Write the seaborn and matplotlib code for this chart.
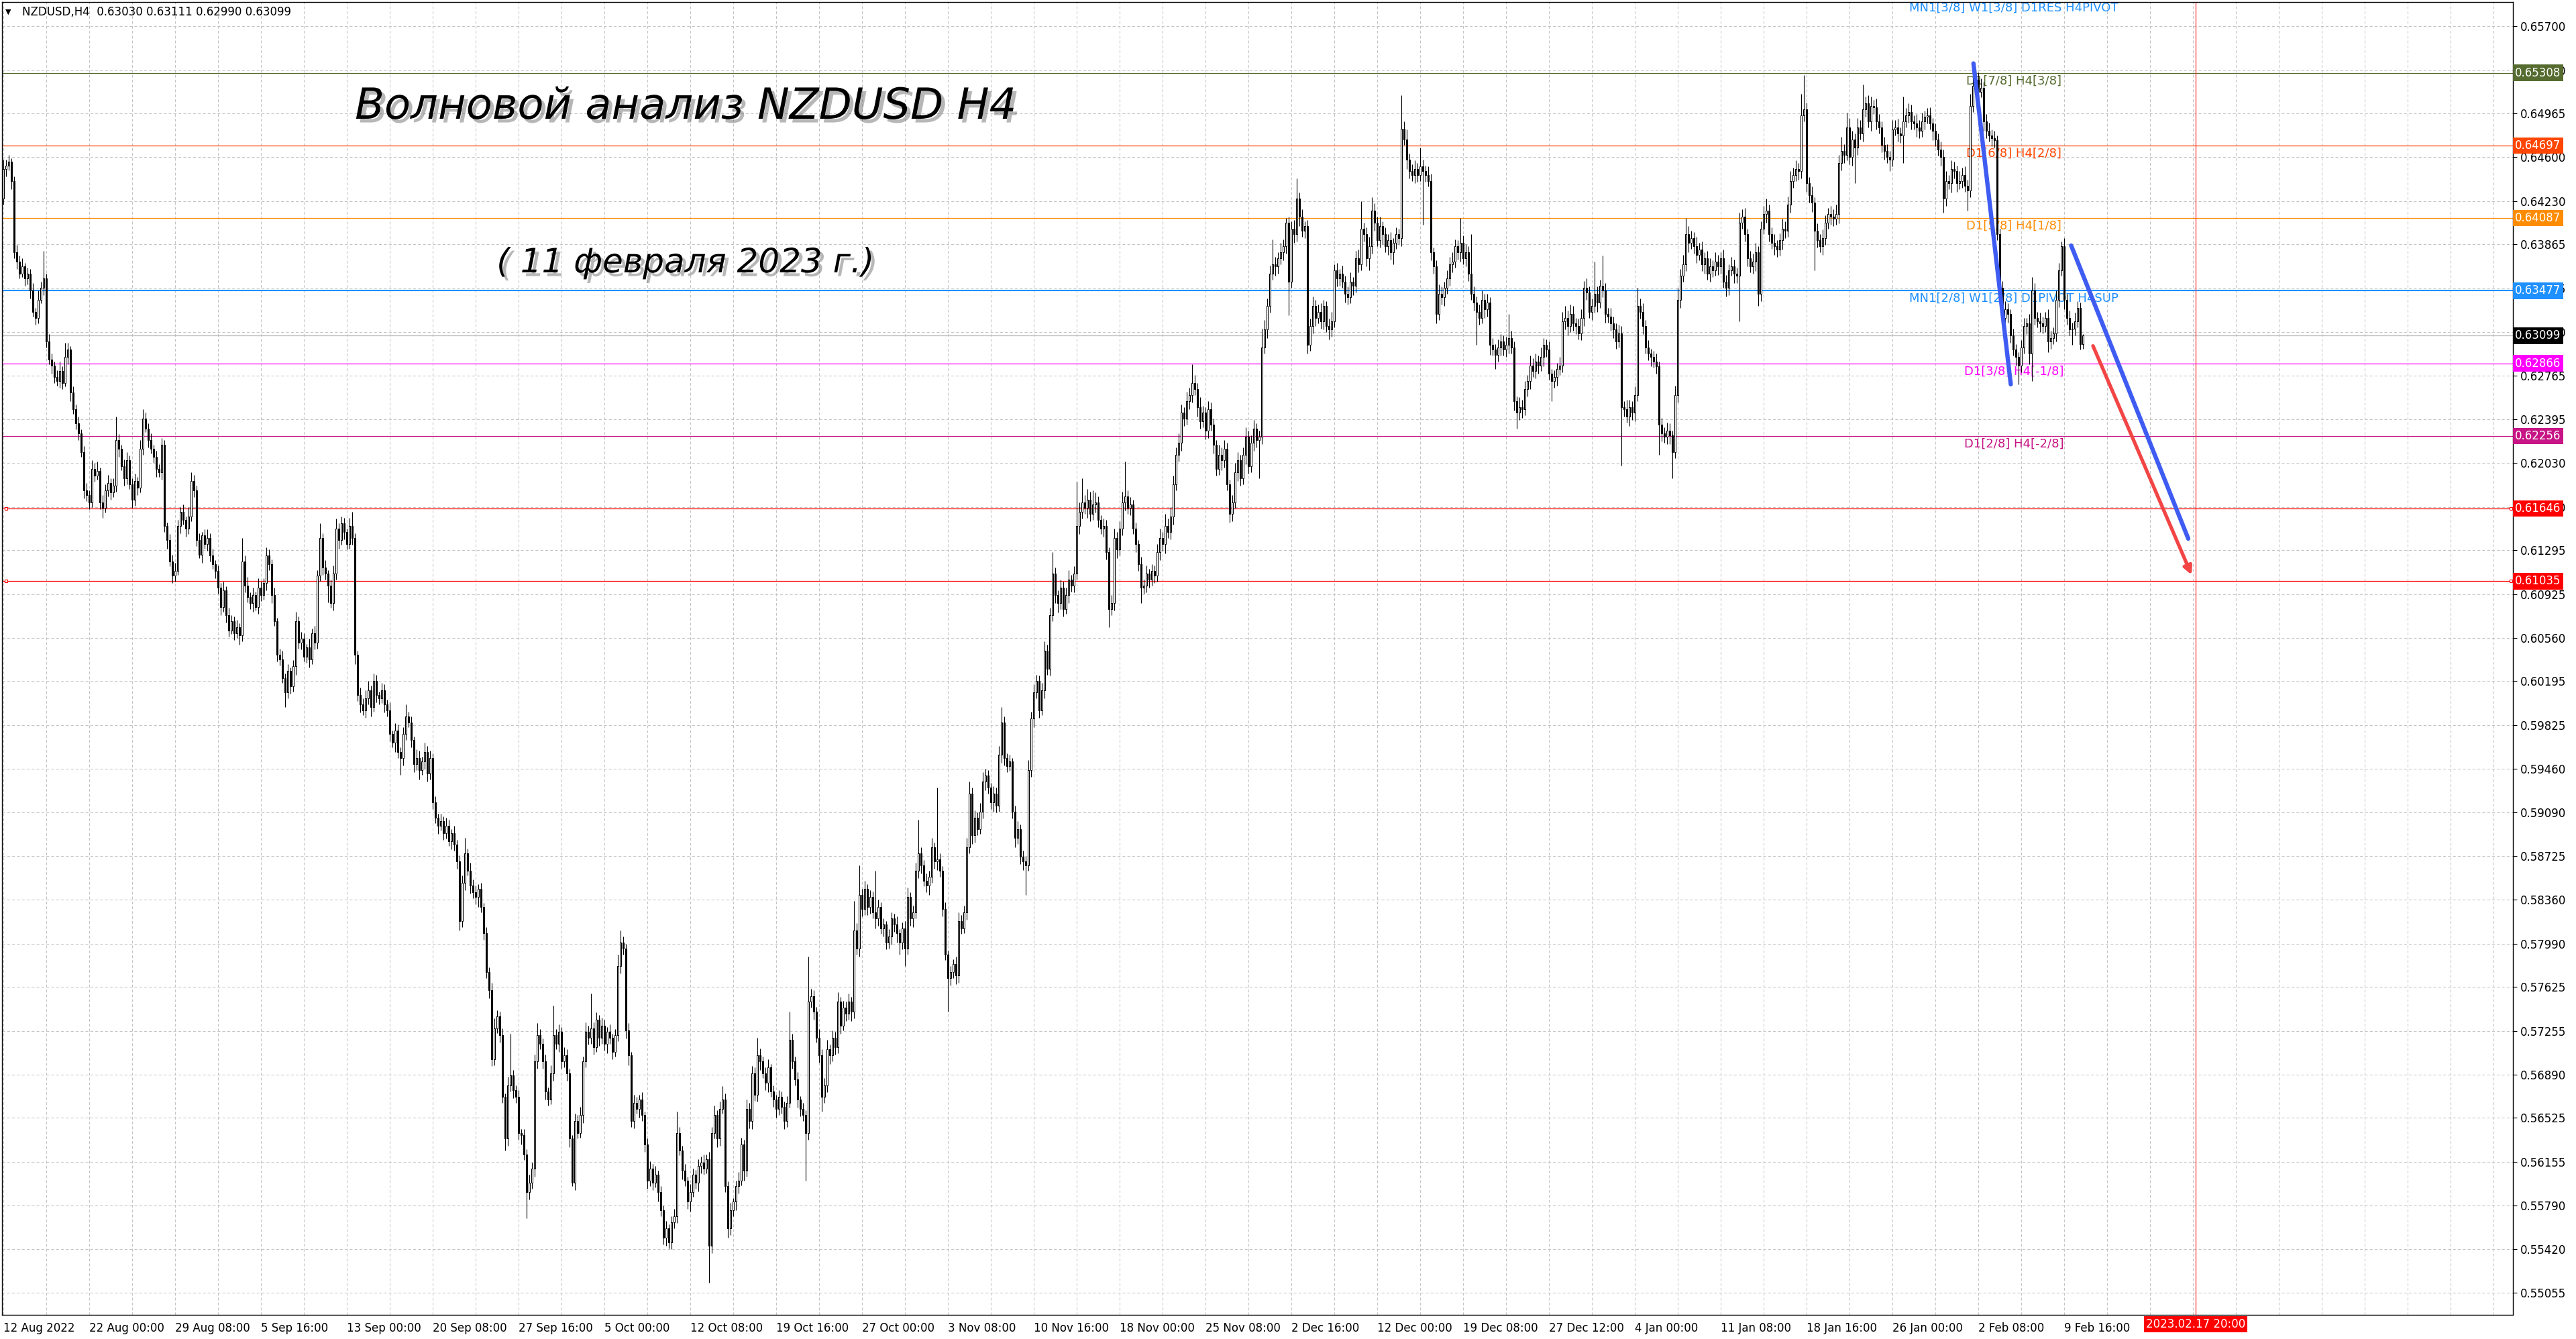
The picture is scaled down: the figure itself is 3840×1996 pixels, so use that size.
import numpy as np
import pandas as pd
import matplotlib
matplotlib.use("Agg")
import matplotlib.pyplot as plt
import matplotlib.patheffects as pe
import seaborn as sns

# H4 closes in pips (price * 10000), bar 0 = 12 Aug 2022
closes = [
    6450, 6453, 6456, 6440, 6380, 6372, 6362, 6368, 6358, 6362,
    6348, 6330, 6325, 6340, 6350, 6358, 6305, 6290, 6285, 6275,
    6272, 6280, 6270, 6292, 6298, 6262, 6248, 6236, 6228, 6212,
    6180, 6176, 6170, 6198, 6192, 6196, 6170, 6165, 6180, 6186,
    6178, 6184, 6222, 6215, 6200, 6190, 6205, 6185, 6172, 6188,
    6182, 6215, 6240, 6232, 6222, 6215, 6208, 6198, 6195, 6218,
    6150, 6138, 6120, 6108, 6112, 6150, 6162, 6155, 6148, 6158,
    6188, 6180, 6138, 6126, 6142, 6135, 6140, 6125, 6118, 6112,
    6098, 6082, 6096, 6075, 6062, 6070, 6060, 6065, 6058, 6120,
    6100, 6090, 6085, 6092, 6082, 6098, 6092, 6102, 6125, 6118,
    6092, 6070, 6042, 6038, 6022, 6010, 6028, 6015, 6032, 6070,
    6052, 6055, 6040, 6048, 6038, 6060, 6052, 6108, 6140, 6115,
    6110, 6100, 6085, 6110, 6148, 6138, 6152, 6145, 6135, 6150,
    6140, 6042, 6008, 6000, 5995, 6005, 6012, 5998, 6020, 6008,
    6005, 6012, 6000, 5995, 5975, 5968, 5978, 5960, 5955, 5975,
    5990, 5985, 5970, 5950, 5955, 5945, 5952, 5960, 5942, 5955,
    5918, 5905, 5898, 5902, 5892, 5898, 5885, 5892, 5882, 5868,
    5818, 5850, 5875, 5860, 5848, 5842, 5838, 5845, 5830, 5808,
    5775, 5760, 5702, 5728, 5738, 5722, 5670, 5635, 5680, 5688,
    5676, 5670, 5640, 5638, 5622, 5590, 5598, 5610, 5700, 5722,
    5715, 5700, 5675, 5668, 5690, 5722, 5715, 5725, 5700, 5705,
    5690, 5635, 5598, 5650, 5640, 5655, 5700, 5725, 5720, 5728,
    5712, 5735, 5720, 5730, 5715, 5725, 5720, 5708, 5722, 5780,
    5800, 5795, 5726, 5705, 5650, 5665, 5660, 5668, 5655, 5630,
    5600, 5610, 5598, 5605, 5590, 5575, 5552, 5560, 5548, 5565,
    5570, 5640, 5625, 5608, 5600, 5582, 5590, 5605, 5598, 5612,
    5615, 5610, 5618, 5545, 5640, 5655, 5635, 5660, 5668, 5595,
    5560, 5575, 5582, 5595, 5600, 5630, 5608, 5660, 5650, 5690,
    5672, 5705, 5700, 5690, 5682, 5695, 5675, 5668, 5660, 5670,
    5662, 5650, 5665, 5718, 5700, 5685, 5668, 5660, 5655, 5640,
    5750, 5755, 5742, 5720, 5705, 5670, 5680, 5710, 5705, 5720,
    5712, 5750, 5730, 5745, 5740, 5750, 5742, 5810, 5795, 5840,
    5828, 5845, 5830, 5838, 5825, 5820, 5830, 5812, 5815, 5800,
    5805, 5820, 5815, 5808, 5800, 5812, 5795, 5838, 5820, 5825,
    5860, 5875, 5865, 5852, 5848, 5855, 5880, 5868, 5870, 5860,
    5828, 5790, 5770, 5775, 5782, 5772, 5818, 5812, 5825, 5880,
    5925, 5890, 5905, 5895, 5910, 5935, 5940, 5930, 5918, 5925,
    5915, 5958, 5985, 5955, 5948, 5952, 5910, 5888, 5895, 5872,
    5868, 5865, 5945, 5988, 6010, 6020, 5995, 6012, 6045, 6030,
    6075, 6110, 6092, 6085, 6098, 6080, 6092, 6105, 6100, 6110,
    6150, 6162, 6170, 6165, 6172, 6160, 6168, 6170, 6155, 6148,
    6150, 6128, 6080, 6085, 6140, 6130, 6148, 6170, 6175, 6165,
    6168, 6148, 6135, 6118, 6098, 6100, 6110, 6105, 6112, 6108,
    6128, 6140, 6135, 6150, 6145, 6158, 6185, 6210, 6220, 6245,
    6240, 6255, 6260, 6270, 6265, 6250, 6238, 6245, 6230, 6248,
    6235, 6218, 6198, 6210, 6205, 6215, 6185, 6160, 6170, 6195,
    6205, 6190, 6210, 6225, 6200, 6220, 6232, 6222, 6225, 6300,
    6315, 6335, 6362, 6370, 6368, 6375, 6380, 6385, 6405, 6355,
    6400, 6395, 6425, 6410, 6398, 6402, 6302, 6318, 6335, 6325,
    6330, 6322, 6335, 6318, 6315, 6322, 6365, 6358, 6362, 6355,
    6345, 6342, 6355, 6352, 6375, 6370, 6400, 6395, 6375, 6385,
    6415, 6405, 6390, 6402, 6395, 6385, 6390, 6380, 6388, 6395,
    6392, 6484, 6475, 6458, 6448, 6445, 6450, 6445, 6452, 6448,
    6445, 6440, 6380, 6368, 6328, 6345, 6342, 6350, 6358, 6370,
    6372, 6385, 6380, 6388, 6375, 6380, 6362, 6345, 6338, 6330,
    6325, 6340, 6332, 6338, 6302, 6298, 6294, 6300, 6305, 6298,
    6302, 6308, 6300, 6255, 6245, 6250, 6248, 6265, 6272, 6285,
    6280, 6288, 6285, 6292, 6302, 6298, 6278, 6272, 6275, 6282,
    6285, 6322, 6325, 6318, 6328, 6320, 6318, 6312, 6325, 6350,
    6346, 6330, 6335, 6345, 6338, 6352, 6348, 6328, 6326, 6320,
    6315, 6305, 6312, 6250, 6248, 6242, 6250, 6245, 6260, 6335,
    6330, 6318, 6300, 6295, 6292, 6288, 6284, 6235, 6228, 6225,
    6230, 6226, 6212, 6260, 6340, 6360, 6370, 6395, 6388, 6392,
    6385, 6378, 6382, 6370, 6375, 6362, 6368, 6365, 6372, 6368,
    6375, 6355, 6350, 6365, 6368, 6362, 6360, 6405, 6410, 6395,
    6375, 6368, 6372, 6380, 6345, 6400, 6412, 6415, 6395, 6388,
    6385, 6382, 6390, 6400, 6398, 6420, 6440, 6445, 6450, 6448,
    6495, 6500, 6438, 6428, 6422, 6398, 6390, 6385, 6392, 6405,
    6412, 6410, 6408, 6412, 6455, 6465, 6462, 6485, 6460, 6475,
    6468, 6485, 6480, 6500, 6505, 6490, 6503, 6502, 6490, 6485,
    6470, 6465, 6460, 6458, 6483, 6485, 6480, 6478, 6490, 6495,
    6498, 6490, 6488, 6485, 6482, 6490, 6494, 6495, 6488, 6482,
    6475, 6466, 6460, 6425, 6440, 6438, 6450, 6448, 6438, 6440,
    6445, 6436, 6432, 6503, 6520, 6525, 6515, 6518, 6490, 6482,
    6478, 6476, 6474, 6395, 6350, 6325, 6332, 6328, 6310, 6298,
    6292, 6285, 6300, 6318, 6320, 6295, 6348, 6325, 6322, 6320,
    6318, 6325, 6305, 6308, 6312, 6340, 6365, 6385, 6340, 6325,
    6315, 6316, 6322, 6333, 6303, 6310,
]
first_open = 6425

# wick lengths beyond the body, pips
upper_wick = [
    8, 5, 6, 3, 4, 6, 5, 7, 3, 5,
    4, 6, 3, 8, 5, 23, 4, 6, 5, 3,
    6, 8, 4, 12, 6, 3, 5, 4, 6, 3,
    5, 6, 4, 7, 5, 8, 3, 6, 5, 7,
    4, 6, 20, 5, 3, 6, 7, 4, 5, 6,
    3, 7, 8, 5, 4, 6, 3, 5, 4, 6,
    4, 3, 5, 6, 7, 5, 4, 6, 3, 8,
    7, 5, 4, 6, 3, 5, 7, 4, 6, 3,
    5, 4, 7, 3, 6, 5, 4, 6, 3, 20,
    5, 7, 4, 6, 3, 8, 5, 4, 7, 5,
    4, 6, 3, 5, 7, 4, 6, 3, 5, 8,
    4, 6, 5, 3, 7, 4, 6, 5, 12, 4,
    6, 3, 5, 7, 8, 4, 6, 5, 3, 7,
    12, 4, 3, 6, 5, 7, 8, 4, 6, 5,
    3, 6, 5, 4, 7, 3, 6, 5, 4, 6,
    10, 4, 5, 3, 7, 6, 4, 8, 5, 6,
    4, 5, 3, 6, 4, 7, 5, 3, 6, 4,
    5, 6, 13, 4, 7, 5, 6, 4, 5, 3,
    5, 4, 6, 8, 5, 4, 6, 3, 7, 35,
    5, 4, 6, 3, 5, 4, 7, 5, 6, 10,
    5, 4, 6, 3, 7, 25, 5, 6, 4, 7,
    5, 4, 3, 6, 5, 7, 4, 8, 5, 29,
    5, 6, 4, 7, 5, 4, 6, 3, 5, 10,
    10, 5, 4, 6, 3, 7, 5, 4, 6, 3,
    5, 6, 4, 7, 3, 5, 4, 6, 3, 5,
    6, 18, 5, 4, 6, 3, 7, 5, 4, 6,
    5, 7, 4, 6, 5, 8, 4, 6, 11, 5,
    4, 6, 3, 5, 7, 6, 4, 8, 5, 6,
    5, 15, 6, 4, 5, 7, 3, 5, 4, 6,
    5, 4, 6, 24, 5, 4, 6, 3, 5, 4,
    38, 6, 5, 4, 7, 5, 6, 8, 4, 6,
    5, 8, 4, 6, 5, 7, 4, 25, 6, 25,
    5, 7, 4, 6, 5, 35, 6, 4, 5, 3,
    6, 5, 4, 7, 3, 5, 6, 8, 4, 6,
    7, 28, 5, 4, 6, 5, 8, 4, 60, 5,
    4, 6, 3, 5, 4, 6, 7, 5, 6, 8,
    10, 5, 6, 4, 7, 8, 6, 5, 4, 6,
    5, 7, 13, 5, 4, 6, 3, 5, 7, 4,
    5, 4, 8, 6, 7, 5, 4, 6, 8, 5,
    6, 18, 5, 4, 7, 5, 6, 8, 4, 6,
    37, 8, 20, 6, 9, 7, 12, 8, 5, 4,
    6, 5, 4, 7, 8, 5, 6, 9, 29, 5,
    6, 4, 5, 3, 6, 5, 7, 4, 6, 5,
    7, 8, 5, 10, 6, 8, 7, 6, 8, 7,
    5, 8, 6, 16, 7, 5, 8, 6, 5, 7,
    6, 5, 4, 8, 6, 7, 5, 4, 6, 8,
    7, 5, 6, 8, 5, 6, 7, 4, 5, 16,
    8, 6, 7, 21, 6, 5, 8, 6, 4, 5,
    6, 7, 17, 5, 6, 4, 5, 6, 8, 5,
    6, 7, 5, 4, 6, 8, 5, 6, 4, 7,
    5, 6, 8, 4, 6, 7, 23, 5, 6, 8,
    11, 6, 5, 8, 4, 6, 5, 7, 4, 6,
    5, 28, 6, 8, 5, 6, 7, 5, 16, 6,
    5, 7, 6, 4, 5, 8, 6, 5, 7, 6,
    8, 6, 5, 21, 6, 7, 5, 33, 6, 5,
    6, 8, 5, 7, 4, 6, 5, 7, 6, 5,
    7, 20, 6, 5, 4, 8, 6, 7, 5, 8,
    6, 7, 5, 8, 6, 5, 7, 4, 6, 5,
    7, 8, 10, 6, 8, 7, 5, 6, 7, 6,
    8, 5, 6, 27, 6, 5, 25, 6, 5, 7,
    6, 5, 7, 6, 5, 8, 6, 5, 7, 15,
    6, 7, 5, 6, 4, 5, 7, 4, 6, 5,
    7, 6, 4, 8, 10, 6, 8, 14, 7, 6,
    5, 8, 6, 7, 5, 6, 7, 5, 8, 6,
    5, 7, 6, 5, 8, 6, 5, 8, 6, 7,
    5, 6, 7, 8, 5, 6, 7, 10, 5, 6,
    7, 5, 6, 8, 6, 7, 8, 6, 7, 5,
    18, 29, 6, 5, 7, 4, 6, 5, 7, 6,
    5, 7, 6, 8, 7, 12, 6, 12, 8, 7,
    5, 8, 6, 21, 6, 7, 8, 5, 7, 6,
    5, 7, 6, 5, 8, 6, 7, 5, 21, 6,
    7, 6, 5, 8, 6, 7, 5, 6, 7, 5,
    6, 5, 7, 6, 8, 5, 7, 6, 5, 8,
    6, 7, 5, 10, 7, 9, 6, 8, 5, 6,
    7, 5, 6, 4, 5, 6, 7, 5, 4, 6,
    5, 4, 6, 7, 5, 8, 11, 6, 5, 7,
    6, 5, 7, 6, 5, 8, 6, 4, 7, 5,
    6, 5, 7, 6, 5, 1,
]
lower_wick = [
    5, 6, 4, 7, 5, 6, 4, 3, 6, 5,
    7, 4, 6, 5, 3, 6, 5, 4, 7, 5,
    4, 6, 5, 3, 6, 7, 4, 5, 6, 4,
    7, 5, 6, 4, 5, 3, 6, 8, 4, 5,
    6, 4, 5, 7, 3, 6, 5, 4, 7, 5,
    6, 4, 5, 3, 6, 4, 5, 7, 4, 6,
    5, 7, 4, 6, 5, 3, 6, 4, 7, 5,
    4, 6, 5, 3, 7, 4, 6, 5, 4, 6,
    5, 7, 4, 6, 5, 3, 6, 4, 8, 5,
    6, 4, 5, 7, 3, 6, 5, 4, 6, 5,
    7, 4, 6, 5, 4, 12, 5, 6, 4, 7,
    5, 6, 4, 5, 7, 4, 6, 5, 4, 6,
    5, 14, 4, 6, 5, 7, 4, 6, 5, 4,
    6, 8, 5, 7, 4, 6, 5, 8, 4, 6,
    5, 4, 7, 5, 6, 4, 8, 5, 14, 6,
    5, 4, 6, 7, 5, 8, 4, 6, 7, 5,
    6, 5, 7, 4, 6, 5, 4, 7, 5, 6,
    8, 5, 6, 4, 7, 5, 6, 8, 5, 6,
    5, 7, 6, 5, 4, 6, 5, 10, 6, 5,
    7, 5, 6, 8, 5, 22, 6, 5, 7, 6,
    5, 6, 7, 5, 4, 6, 5, 7, 6, 5,
    6, 7, 3, 6, 5, 4, 7, 5, 6, 5,
    6, 4, 7, 5, 6, 8, 5, 6, 4, 5,
    6, 5, 7, 8, 5, 6, 4, 7, 5, 6,
    7, 5, 6, 4, 8, 5, 6, 7, 5, 6,
    5, 6, 4, 7, 5, 6, 8, 4, 5, 7,
    6, 5, 4, 31, 6, 5, 7, 6, 4, 5,
    8, 6, 5, 7, 6, 4, 8, 5, 6, 7,
    5, 6, 7, 4, 6, 8, 5, 6, 7, 5,
    6, 7, 5, 4, 6, 5, 7, 6, 5, 40,
    6, 5, 7, 4, 6, 12, 5, 6, 7, 5,
    6, 5, 7, 4, 6, 5, 8, 6, 5, 7,
    6, 5, 7, 6, 5, 8, 6, 5, 7, 6,
    5, 7, 6, 8, 10, 6, 15, 5, 6, 7,
    5, 6, 7, 5, 6, 8, 5, 6, 7, 5,
    6, 5, 28, 6, 5, 7, 6, 5, 4, 6,
    5, 7, 6, 5, 4, 6, 7, 5, 6, 8,
    6, 5, 7, 6, 5, 4, 6, 8, 5, 6,
    7, 25, 5, 6, 7, 5, 6, 4, 7, 5,
    6, 5, 7, 8, 5, 6, 4, 7, 5, 6,
    5, 7, 6, 5, 8, 6, 5, 7, 6, 5,
    7, 6, 15, 5, 6, 7, 5, 6, 7, 5,
    6, 5, 7, 6, 13, 5, 6, 7, 5, 6,
    5, 7, 6, 8, 5, 6, 7, 5, 6, 7,
    6, 5, 7, 6, 5, 8, 6, 5, 7, 6,
    5, 7, 6, 5, 8, 6, 5, 7, 6, 5,
    7, 6, 5, 8, 6, 5, 7, 6, 32, 6,
    5, 7, 6, 5, 8, 6, 5, 7, 6, 28,
    5, 7, 6, 8, 5, 6, 7, 5, 6, 7,
    5, 6, 7, 5, 8, 6, 5, 7, 6, 5,
    7, 6, 5, 8, 6, 7, 5, 6, 7, 10,
    6, 7, 5, 6, 8, 5, 7, 6, 10, 5,
    6, 7, 5, 8, 6, 5, 7, 6, 5, 45,
    6, 5, 7, 6, 8, 5, 6, 7, 5, 6,
    7, 5, 6, 8, 5, 7, 6, 5, 7, 28,
    6, 5, 7, 6, 8, 5, 12, 6, 7, 5,
    6, 7, 5, 8, 13, 6, 7, 5, 6, 7,
    5, 6, 7, 5, 8, 6, 5, 17, 6, 7,
    5, 6, 7, 8, 5, 6, 7, 5, 6, 7,
    6, 5, 7, 6, 8, 5, 6, 7, 5, 6,
    7, 6, 5, 49, 6, 5, 8, 6, 7, 5,
    6, 7, 5, 6, 8, 5, 6, 25, 7, 5,
    6, 7, 22, 5, 6, 7, 5, 6, 8, 5,
    6, 7, 5, 6, 8, 5, 7, 6, 5, 7,
    6, 5, 7, 6, 5, 8, 6, 38, 5, 6,
    7, 5, 6, 8, 10, 6, 5, 7, 6, 5,
    7, 6, 5, 8, 6, 5, 7, 6, 5, 7,
    6, 5, 7, 6, 8, 33, 6, 5, 7, 6,
    5, 7, 6, 5, 8, 6, 7, 5, 6, 7,
    30, 6, 5, 7, 6, 5, 8, 6, 7, 5,
    6, 7, 5, 10, 6, 5, 7, 6, 23, 5,
    6, 7, 5, 8, 6, 5, 7, 6, 5, 8,
    6, 5, 7, 12, 6, 5, 8, 6, 7, 5,
    6, 5, 17, 6, 5, 7, 6, 5, 8, 6,
    5, 7, 6, 5, 8, 6, 5, 7, 6, 5,
    7, 16, 6, 5, 7, 9, 23, 6, 5, 7,
    6, 5, 9, 6, 5, 7, 6, 5, 8, 6,
    5, 13, 6, 5, 5, 4,
]

x_tick_labels = [
    "12 Aug 2022", "22 Aug 00:00", "29 Aug 08:00", "5 Sep 16:00", "13 Sep 00:00",
    "20 Sep 08:00", "27 Sep 16:00", "5 Oct 00:00", "12 Oct 08:00", "19 Oct 16:00",
    "27 Oct 00:00", "3 Nov 08:00", "10 Nov 16:00", "18 Nov 00:00", "25 Nov 08:00",
    "2 Dec 16:00", "12 Dec 00:00", "19 Dec 08:00", "27 Dec 12:00", "4 Jan 00:00",
    "11 Jan 08:00", "18 Jan 16:00", "26 Jan 00:00", "2 Feb 08:00", "9 Feb 16:00",
]
bars_per_label = 32

y_tick_labels = [
    "0.65700", "0.65330", "0.64965", "0.64600", "0.64230", "0.63865", "0.63495",
    "0.63130", "0.62765", "0.62395", "0.62030", "0.61660", "0.61295", "0.60925",
    "0.60560", "0.60195", "0.59825", "0.59460", "0.59090", "0.58725", "0.58360",
    "0.57990", "0.57625", "0.57255", "0.56890", "0.56525", "0.56155", "0.55790",
    "0.55420", "0.55055",
]

levels = [0.65308, 0.64697, 0.64087, 0.63477, 0.63099, 0.62866, 0.62256, 0.61646, 0.61035]
level_colors = ["#556B2F", "#FF4500", "#FF8C00", "#1E90FF", "#000000",
                "#FF00FF", "#C71585", "#FF0000", "#FF0000"]
level_names = ["D1[7/8] H4[3/8]", "D1[6/8] H4[2/8]", "D1[5/8] H4[1/8]",
               "MN1[2/8] W1[2/8] D1PIVOT H4SUP", "", "D1[3/8] H4[-1/8]",
               "D1[2/8] H4[-2/8]", "", ""]
top_level = 0.65918
top_level_name = "MN1[3/8] W1[3/8] D1RES H4PIVOT"

# hand-drawn lines (bar index, price)
wave_x = [734.2, 748.1]
wave_y = [0.65387, 0.62690]
channel_x = [770.6, 814.25]
channel_y = [0.63857, 0.61393]
target_x = [778.75, 815.5]
target_y = [0.63013, 0.61088]
future_bar = 817
future_label = "2023.02.17 20:00"

sns.set_style("white")
plt.rcParams["font.family"] = ["DejaVu Sans"]

n = min(len(closes), len(upper_wick), len(lower_wick))
c = np.array(closes[:n], dtype=float) / 1e4
o = np.r_[first_open, closes[:n - 1]].astype(float) / 1e4
df = pd.DataFrame({"open": o, "close": c})
df["high"] = df[["open", "close"]].max(axis=1) + np.array(upper_wick[:n]) / 1e4
df["low"] = df[["open", "close"]].min(axis=1) - np.array(lower_wick[:n]) / 1e4
df["bar"] = np.arange(n)

W, H = 3840, 1996
fig = plt.figure(figsize=(W / 100, H / 100), dpi=100)
fig.patch.set_facecolor("white")
ax = fig.add_axes([3 / W, 36 / H, 3743 / W, 1957 / H])
ax.set_facecolor("white")

ax.set_xlim(-0.5, 935.25)
ax.set_ylim(0.54870, 0.65903)

# grid
ax.set_yticks([float(t) for t in y_tick_labels])
ax.set_yticklabels(y_tick_labels)
xt = [k * bars_per_label for k in range(len(x_tick_labels))]
ax.set_xticks(xt)
ax.set_xticklabels(x_tick_labels)
ax.set_xticks(np.arange(0, 936, 16), minor=True)
ax.grid(True, which="both", axis="x", color="#c4c4c4", linestyle=(0, (4, 3)), linewidth=0.75, zorder=0)
ax.grid(True, which="major", axis="y", color="#c4c4c4", linestyle=(0, (4, 3)), linewidth=0.75, zorder=0)
ax.set_axisbelow(True)

for lbl in ax.get_xticklabels():
    lbl.set_ha("left")
ax.tick_params(axis="x", which="major", direction="out", length=4, width=0.8, pad=4,
               labelsize=12, colors="black")
ax.tick_params(axis="x", which="minor", length=0)
ax.yaxis.tick_right()
ax.tick_params(axis="y", which="major", direction="out", length=4, width=0.8, pad=4,
               labelsize=12, colors="black")
for sp in ax.spines.values():
    sp.set_color("black")
    sp.set_linewidth(1.0)

# level lines and their labels
for lev, col, name in zip(levels, level_colors, level_names):
    line_col = "#b8b8b8" if col == "#000000" else col
    lw = 1.5 if col == "#1E90FF" else 0.9
    ax.axhline(lev, color=line_col, linewidth=lw, zorder=1)
    if name:
        ax.annotate(name, xy=(749.25, lev), xytext=(0, -2), textcoords="offset points",
                    ha="center", va="top", fontsize=13, color=col, zorder=2)
    ax.text(1.0 + 3 / 3743, lev, f"{lev:.5f}", transform=ax.get_yaxis_transform(),
            ha="left", va="center", fontsize=12, color="white", clip_on=False, zorder=6,
            bbox=dict(boxstyle="square,pad=0.2", fc=col, ec="none"))
ax.annotate(top_level_name, xy=(749.25, top_level), xytext=(0, -2), textcoords="offset points",
            ha="center", va="top", fontsize=13, color="#1E90FF", zorder=2, annotation_clip=False)

# anchor squares of the red horizontal lines
for lev in levels[-2:]:
    ax.plot([1, 934.5], [lev, lev], ls="none", marker="s", ms=3.2, mfc="white",
            mec="red", mew=0.8, zorder=3, clip_on=False)

# candles
bull = df["close"] >= df["open"]
body_lo = df[["open", "close"]].min(axis=1)
body_h = (df["close"] - df["open"]).abs().clip(lower=0.000012)
ax.vlines(df["bar"], df["low"], df["high"], color="black", linewidth=0.8, zorder=3)
ax.bar(df["bar"][bull], body_h[bull], bottom=body_lo[bull], width=0.6,
       color="white", edgecolor="black", linewidth=0.75, zorder=4)
ax.bar(df["bar"][~bull], body_h[~bull], bottom=body_lo[~bull], width=0.6,
       color="black", edgecolor="black", linewidth=0.75, zorder=4)

# future marker
ax.axvline(future_bar, color="#ff3030", linewidth=0.9, zorder=2)
ax.text(future_bar, -0.0072, future_label, transform=ax.get_xaxis_transform(),
        ha="center", va="center", fontsize=12, color="white", clip_on=False,
        bbox=dict(boxstyle="square,pad=0.2", fc="red", ec="none"))

# trend lines
lines = pd.DataFrame({"x": wave_x + channel_x, "y": wave_y + channel_y,
                      "seg": ["wave"] * 2 + ["channel"] * 2})
sns.lineplot(data=lines, x="x", y="y", units="seg", estimator=None, color="#3f5cf2",
             linewidth=4.6, solid_capstyle="round", ax=ax, zorder=5, legend=False)
ax.annotate("", xy=(target_x[1], target_y[1]), xytext=(target_x[0], target_y[0]),
            arrowprops=dict(arrowstyle="-|>,head_length=0.6,head_width=0.3", color="#f24545",
                            lw=3.8, shrinkA=0, shrinkB=0, mutation_scale=12,
                            capstyle="round"), zorder=5)
ax.set_xlabel("")
ax.set_ylabel("")

# header
fig.text(8 / W, 1 - 18 / H, "\u25bc", fontsize=8, va="center", ha="left", color="black")
fig.text(33 / W, 1 - 18 / H, "NZDUSD,H4  0.63030 0.63111 0.62990 0.63099",
         fontsize=12, va="center", ha="left", color="black")

# titles
shadow = [pe.withSimplePatchShadow(offset=(4, -4), shadow_rgbFace="#606060", alpha=0.45)]
fig.text(1022 / W, 1 - 159 / H, "Волновой анализ NZDUSD H4", fontsize=46, style="italic",
         ha="center", va="center", color="black", path_effects=shadow)
fig.text(1022 / W, 1 - 392 / H, "( 11 февраля 2023 г.)", fontsize=36, style="italic",
         ha="center", va="center", color="black", path_effects=shadow)

fig.savefig("out.png", dpi=100, facecolor="white")
